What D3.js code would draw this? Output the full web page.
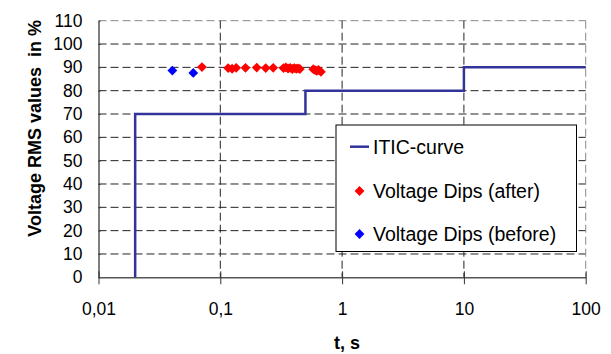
<!DOCTYPE html>
<html>
<head>
<meta charset="utf-8">
<script src="https://cdn.jsdelivr.net/npm/d3@7"></script>
<style>
  body { margin: 0; background: #fff; }
  text { font-family: Arial, "Liberation Sans", sans-serif; }
</style>
</head>
<body>
<svg width="611" height="354"></svg>
<script>
"use strict";

// ITIC limit curve (step)
const iticT = [0.02, 0.02, 0.5, 10, 100];
const iticV = [0, 70, 80, 90, 90];

// measured dips
const beforeT = [0.0404, 0.0600];
const beforeV = [88.6, 87.6];
const afterT = [0.0707, 0.116, 0.125, 0.135, 0.161, 0.199, 0.236, 0.272, 0.33, 0.345, 0.36,
                0.375, 0.39, 0.405, 0.42, 0.435, 0.45, 0.58, 0.60, 0.62, 0.64, 0.67];
const afterV = [90.1, 89.7, 89.4, 89.8, 89.8, 89.9, 89.7, 89.8, 89.7, 90.0, 89.5,
                89.8, 89.3, 89.7, 89.4, 89.6, 89.3, 89.2, 88.8, 88.5, 88.9, 88.1];

const xTicks = [0.01, 0.1, 1, 10, 100];
const xLabels = ['0,01', '0,1', '1', '10', '100'];
const yTicks = d3.range(0, 111, 10);

const svg = d3.select('svg');
const plotLeft = 98.5, plotRight = 585.7, plotTop = 20.7, plotBottom = 277.3;

const x = d3.scaleLog().domain([0.01, 100]).range([plotLeft, plotRight]);
const y = d3.scaleLinear().domain([0, 110]).range([plotBottom, plotTop]);

// grid
const grid = svg.append('g')
    .attr('stroke', '#222')
    .attr('stroke-width', 1)
    .attr('stroke-dasharray', '8,4');

grid.selectAll('.hg').data(yTicks.slice(1)).join('line')
    .attr('x1', plotLeft).attr('x2', plotRight)
    .attr('y1', d => y(d)).attr('y2', d => y(d))
    .attr('stroke', d => d === 110 ? '#888' : null);

grid.selectAll('.vg').data(xTicks.slice(1)).join('line')
    .attr('x1', d => x(d)).attr('x2', d => x(d))
    .attr('y1', plotTop).attr('y2', plotBottom)
    .attr('stroke', d => d === 100 ? '#888' : null);

// axes
const yAxis = svg.append('g')
    .attr('transform', `translate(${plotLeft},0)`)
    .call(d3.axisLeft(y).tickValues(yTicks).tickSize(10).tickSizeOuter(0).tickPadding(6));
yAxis.selectAll('.tick line').attr('x2', 2);

const xAxis = svg.append('g')
    .attr('transform', `translate(0,${plotBottom})`)
    .call(d3.axisBottom(x).tickValues(xTicks).tickFormat((d, i) => xLabels[i])
        .tickSize(7).tickSizeOuter(0).tickPadding(18));
xAxis.selectAll('.tick line').attr('y1', -6);

svg.selectAll('.domain').attr('stroke', '#555').attr('stroke-width', 1.5);
svg.selectAll('.tick line').attr('stroke', '#333');
svg.selectAll('.tick text').attr('font-size', 17.5).attr('fill', '#000');

// ITIC curve
const line = d3.line()
    .x((d, i) => x(iticT[i]))
    .y((d, i) => y(iticV[i]))
    .curve(d3.curveStepAfter);

svg.append('path')
    .attr('d', line(iticT))
    .attr('fill', 'none')
    .attr('stroke', '#333399')
    .attr('stroke-width', 2.5);

// markers
const diamond = d3.symbol(d3.symbolSquare, 48);

svg.append('g').selectAll('path').data(afterT).join('path')
    .attr('d', diamond)
    .attr('fill', '#ff0000')
    .attr('transform', (d, i) => `translate(${x(d)},${y(afterV[i])}) rotate(45)`);

svg.append('g').selectAll('path').data(beforeT).join('path')
    .attr('d', diamond)
    .attr('fill', '#0000ff')
    .attr('transform', (d, i) => `translate(${x(d)},${y(beforeV[i])}) rotate(45)`);

// legend
const legend = svg.append('g');
legend.append('rect')
    .attr('x', 336).attr('y', 125)
    .attr('width', 240.5).attr('height', 126.5)
    .attr('fill', '#fff')
    .attr('stroke', '#000')
    .attr('stroke-width', 1);

legend.append('line')
    .attr('x1', 350).attr('x2', 369)
    .attr('y1', 146.7).attr('y2', 146.7)
    .attr('stroke', '#333399').attr('stroke-width', 2.5);

legend.append('path').attr('d', diamond).attr('fill', '#ff0000')
    .attr('transform', 'translate(359.5,191) rotate(45)');
legend.append('path').attr('d', diamond).attr('fill', '#0000ff')
    .attr('transform', 'translate(359.5,234) rotate(45)');

const legendLabels = ['ITIC-curve', 'Voltage Dips (after)', 'Voltage Dips (before)'];
const legendY = [146.7, 191, 234];
legend.selectAll('text').data(legendLabels).join('text')
    .attr('x', 373)
    .attr('y', (d, i) => legendY[i])
    .attr('dy', '0.35em')
    .attr('font-size', 19.5)
    .text(d => d);

// axis titles
svg.append('text')
    .attr('x', 347).attr('y', 349)
    .attr('text-anchor', 'middle')
    .attr('font-size', 18)
    .attr('font-weight', 'bold')
    .text('t, s');

svg.append('text')
    .attr('transform', 'translate(40.5,128.3) rotate(-90)')
    .attr('text-anchor', 'middle')
    .attr('font-size', 18)
    .attr('font-weight', 'bold')
    .style('white-space', 'pre')
    .text('Voltage RMS values  in %');
</script>
</body>
</html>
